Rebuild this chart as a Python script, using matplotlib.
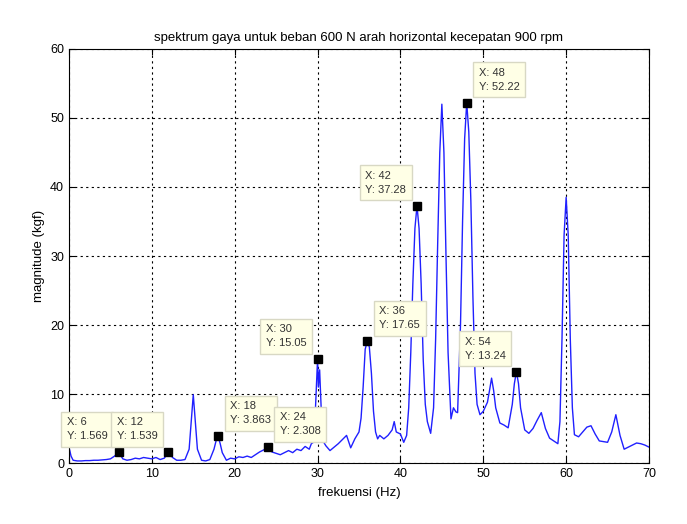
import numpy as np
import matplotlib
matplotlib.use("Agg")
import matplotlib.pyplot as plt

plt.rcParams['font.family'] = ['Liberation Sans', 'DejaVu Sans']

# spektrum
freq = [0, 0.25, 0.5, 1, 1.5, 2, 2.5, 3, 3.5, 4, 4.5, 5, 5.5, 6, 6.5, 7, 7.5, 8, 8.5, 9, 9.5,
        10, 10.5, 11, 11.5, 12, 12.5, 13, 13.5, 14, 14.5, 14.75, 15, 15.25, 15.5, 16, 16.5,
        17, 17.5, 17.75, 18, 18.25, 18.5, 19, 19.5, 20, 20.5, 21, 21.5, 22, 22.5, 23, 23.5,
        24, 24.5, 25, 25.5, 26, 26.5, 27, 27.5, 28, 28.5, 29, 29.25, 29.5, 29.75, 30, 30.1,
        30.25, 30.5, 30.75, 31, 31.5, 32, 32.5, 33, 33.5, 34, 34.5, 35, 35.25, 35.5, 35.75,
        36, 36.25, 36.5, 36.75, 37, 37.25, 37.5, 38, 38.5, 39, 39.25, 39.5, 40, 40.4, 40.75,
        41, 41.25, 41.5, 41.75, 42, 42.25, 42.5, 42.75, 43, 43.25, 43.65, 44, 44.25, 44.5,
        44.75, 45, 45.25, 45.5, 45.75, 46.1, 46.4, 46.7, 46.9, 47.25, 47.5, 47.75, 48, 48.25,
        48.5, 48.75, 49, 49.25, 49.6, 50, 50.5, 50.75, 51, 51.25, 51.5, 52, 52.5, 53, 53.5,
        53.75, 54, 54.25, 54.5, 55, 55.5, 56, 56.5, 57, 57.5, 58, 58.5, 59, 59.25, 59.5,
        59.75, 60, 60.25, 60.5, 60.75, 61, 61.5, 62, 62.5, 63, 63.5, 64, 64.5, 65, 65.5, 66,
        66.5, 67, 67.5, 68, 68.5, 69, 69.5, 70]
mag = [2.3, 1.0, 0.4, 0.3, 0.3, 0.35, 0.35, 0.4, 0.4, 0.45, 0.5, 0.6, 1.0, 1.569, 0.6, 0.4,
       0.5, 0.7, 0.6, 0.8, 0.7, 0.6, 0.8, 0.5, 0.7, 1.539, 0.8, 0.4, 0.4, 0.5, 2.0, 6.0, 9.9,
       6.0, 2.0, 0.4, 0.3, 0.5, 2.0, 3.2, 3.863, 2.8, 1.5, 0.4, 0.7, 0.6, 0.9, 0.8, 1.0, 0.8,
       1.2, 1.6, 1.9, 2.308, 1.6, 1.4, 1.2, 1.5, 1.8, 1.5, 2.0, 1.8, 2.4, 2.0, 2.8, 3.0, 8.0,
       15.05, 11.0, 13.5, 6.0, 3.0, 2.5, 1.8, 2.3, 2.8, 3.4, 4.0, 2.2, 3.5, 4.5, 6.5, 11.0,
       16.5, 17.65, 16.8, 13.0, 7.5, 4.5, 3.5, 4.0, 3.5, 4.0, 4.8, 6.0, 4.5, 4.2, 3.0, 4.0,
       8.0, 16.0, 26.0, 34.0, 37.28, 34.0, 26.0, 15.0, 8.5, 6.0, 4.3, 8.0, 18.0, 32.0, 45.0,
       52.0, 45.0, 30.0, 16.0, 6.4, 8.0, 7.4, 7.3, 20.0, 35.0, 47.0, 52.22, 48.0, 38.0, 24.0,
       13.0, 8.5, 7.0, 7.5, 8.8, 10.5, 12.3, 10.5, 8.0, 5.8, 5.5, 5.1, 8.5, 11.5, 13.24, 11.5,
       8.0, 4.8, 4.3, 5.0, 6.2, 7.3, 5.0, 3.6, 3.2, 2.8, 6.0, 18.0, 33.0, 38.5, 33.0, 18.0,
       8.0, 4.1, 3.8, 4.5, 5.2, 5.4, 4.2, 3.2, 3.1, 3.0, 4.5, 7.0, 4.0, 2.0, 2.3, 2.6, 2.9,
       2.8, 2.6, 2.3]

# data tip
tip_x = [6, 12, 18, 24, 30, 36, 42, 48, 54]
tip_y = [1.569, 1.539, 3.863, 2.308, 15.05, 17.65, 37.28, 52.22, 13.24]
tip_side = ['L', 'L', 'R', 'R', 'L', 'R', 'L', 'R', 'L']

fig = plt.figure(figsize=(6.87, 5.24), dpi=100)
ax = fig.add_axes([0.1004, 0.1164, 0.8443, 0.7901])

ax.plot(freq, mag, color='#2020ff', linewidth=1.0)

ax.set_xlim(0, 70)
ax.set_ylim(0, 60)
ax.set_xticks(np.arange(0, 71, 10))
ax.set_yticks(np.arange(0, 61, 10))
ax.grid(True, color='black', linestyle=(0, (2, 3)), linewidth=0.8)
ax.tick_params(direction='in', top=True, right=True, length=4, labelsize=9)
for s in ax.spines.values():
    s.set_linewidth(0.8)

ax.set_title('spektrum gaya untuk beban 600 N arah horizontal kecepatan 900 rpm', fontsize=9.5, pad=6)
ax.set_xlabel('frekuensi (Hz)', fontsize=9.5, labelpad=5)
ax.set_ylabel('magnitude (kgf)', fontsize=9.5, labelpad=4)

for x, y, side in zip(tip_x, tip_y, tip_side):
    ax.plot(x, y, 's', color='black', markersize=6, zorder=5)
    if side == 'R':
        off, ha = (12, 11), 'left'
    else:
        off, ha = (-11, 11), 'right'
    ax.annotate('X: %g\nY: %.4g' % (x, y), xy=(x, y), xytext=off, textcoords='offset pixels',
                ha=ha, va='bottom', multialignment='left', fontsize=8, color='#333333',
                linespacing=1.5,
                bbox=dict(boxstyle='square,pad=0.5', fc='#ffffe6', ec='#d8d8c4', lw=1),
                zorder=6)

fig.savefig('out.png', dpi=100)
